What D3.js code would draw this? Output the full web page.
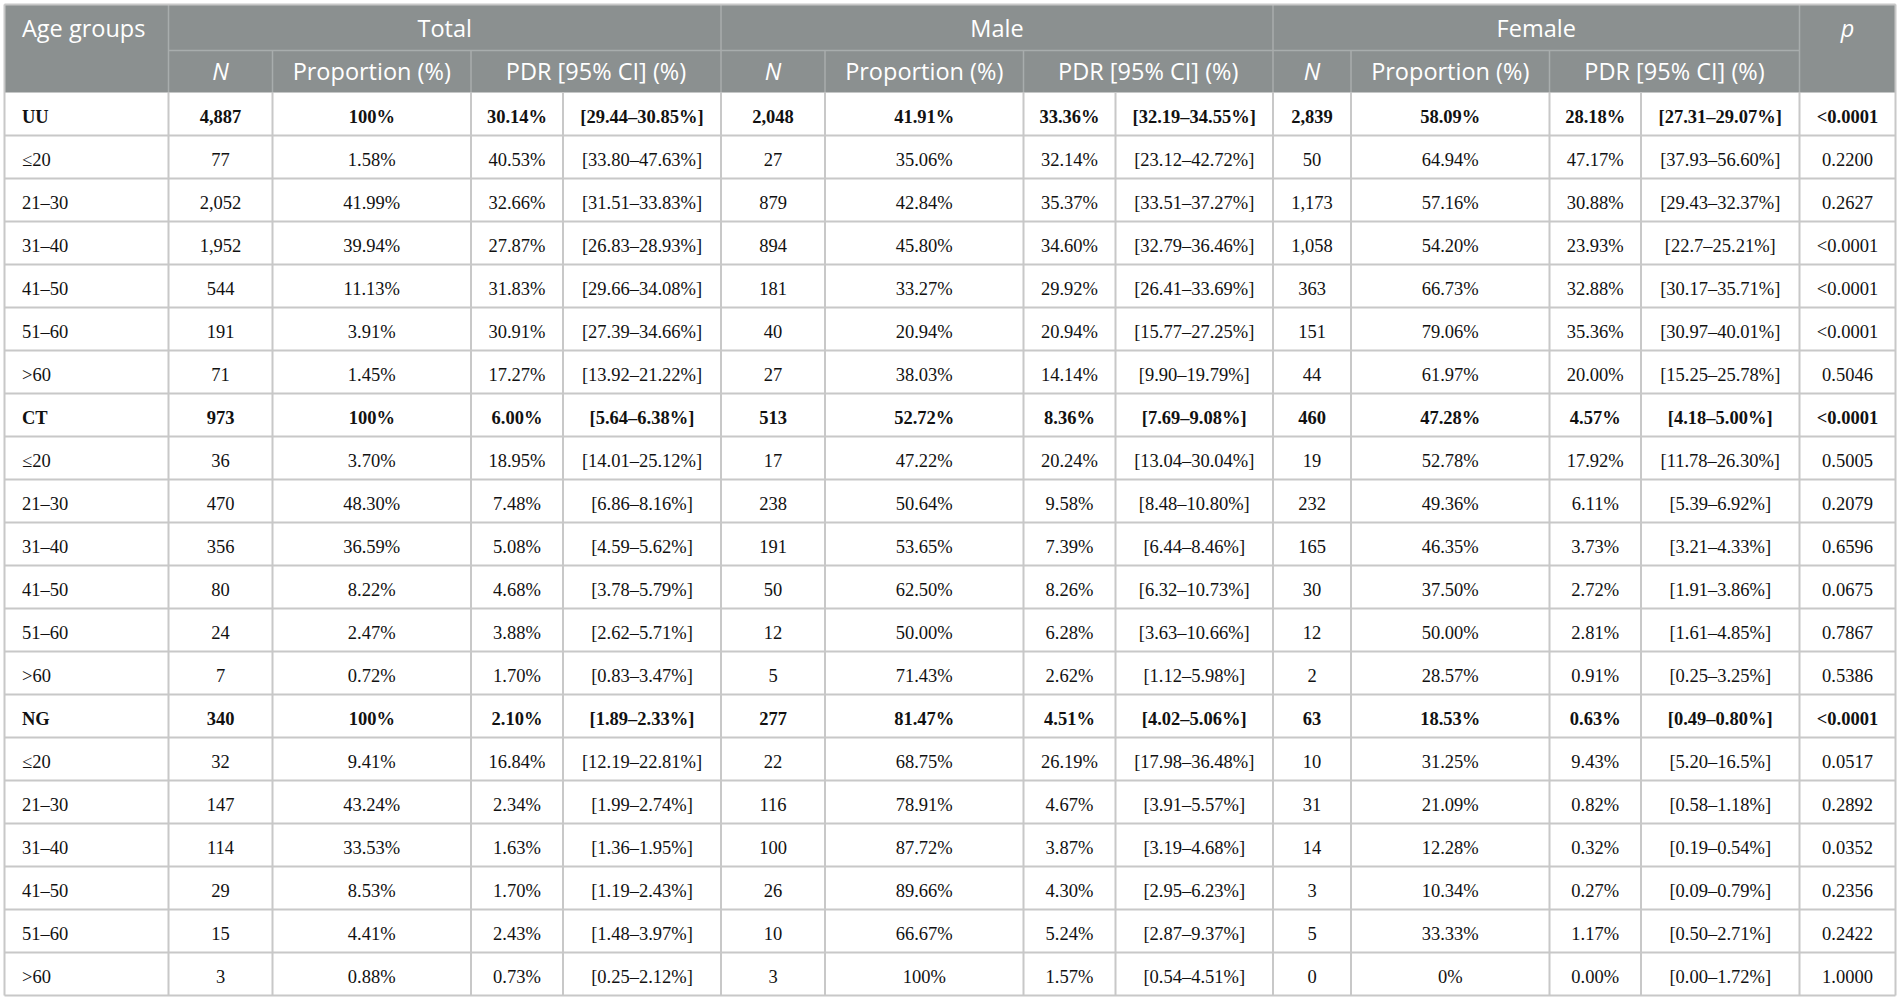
<!DOCTYPE html>
<html>
<head>
<meta charset="utf-8">
<script src="https://cdn.jsdelivr.net/npm/d3@7"></script>
<style>
  body { margin: 0; background: #fff; }
  svg { display: block; }
</style>
</head>
<body>
<div id="chart"></div>
<script>
// table values, one array per column
var ageGroups = ["UU", "≤20", "21–30", "31–40", "41–50", "51–60", ">60",
                 "CT", "≤20", "21–30", "31–40", "41–50", "51–60", ">60",
                 "NG", "≤20", "21–30", "31–40", "41–50", "51–60", ">60"];
var boldRows = ["UU", "CT", "NG"];

var totalN    = ["4,887", "77", "2,052", "1,952", "544", "191", "71",
                 "973", "36", "470", "356", "80", "24", "7",
                 "340", "32", "147", "114", "29", "15", "3"];
var totalProp = ["100%", "1.58%", "41.99%", "39.94%", "11.13%", "3.91%", "1.45%",
                 "100%", "3.70%", "48.30%", "36.59%", "8.22%", "2.47%", "0.72%",
                 "100%", "9.41%", "43.24%", "33.53%", "8.53%", "4.41%", "0.88%"];
var totalPDR  = ["30.14%", "40.53%", "32.66%", "27.87%", "31.83%", "30.91%", "17.27%",
                 "6.00%", "18.95%", "7.48%", "5.08%", "4.68%", "3.88%", "1.70%",
                 "2.10%", "16.84%", "2.34%", "1.63%", "1.70%", "2.43%", "0.73%"];
var totalCI   = ["[29.44–30.85%]", "[33.80–47.63%]", "[31.51–33.83%]", "[26.83–28.93%]", "[29.66–34.08%]", "[27.39–34.66%]", "[13.92–21.22%]",
                 "[5.64–6.38%]", "[14.01–25.12%]", "[6.86–8.16%]", "[4.59–5.62%]", "[3.78–5.79%]", "[2.62–5.71%]", "[0.83–3.47%]",
                 "[1.89–2.33%]", "[12.19–22.81%]", "[1.99–2.74%]", "[1.36–1.95%]", "[1.19–2.43%]", "[1.48–3.97%]", "[0.25–2.12%]"];

var maleN     = ["2,048", "27", "879", "894", "181", "40", "27",
                 "513", "17", "238", "191", "50", "12", "5",
                 "277", "22", "116", "100", "26", "10", "3"];
var maleProp  = ["41.91%", "35.06%", "42.84%", "45.80%", "33.27%", "20.94%", "38.03%",
                 "52.72%", "47.22%", "50.64%", "53.65%", "62.50%", "50.00%", "71.43%",
                 "81.47%", "68.75%", "78.91%", "87.72%", "89.66%", "66.67%", "100%"];
var malePDR   = ["33.36%", "32.14%", "35.37%", "34.60%", "29.92%", "20.94%", "14.14%",
                 "8.36%", "20.24%", "9.58%", "7.39%", "8.26%", "6.28%", "2.62%",
                 "4.51%", "26.19%", "4.67%", "3.87%", "4.30%", "5.24%", "1.57%"];
var maleCI    = ["[32.19–34.55%]", "[23.12–42.72%]", "[33.51–37.27%]", "[32.79–36.46%]", "[26.41–33.69%]", "[15.77–27.25%]", "[9.90–19.79%]",
                 "[7.69–9.08%]", "[13.04–30.04%]", "[8.48–10.80%]", "[6.44–8.46%]", "[6.32–10.73%]", "[3.63–10.66%]", "[1.12–5.98%]",
                 "[4.02–5.06%]", "[17.98–36.48%]", "[3.91–5.57%]", "[3.19–4.68%]", "[2.95–6.23%]", "[2.87–9.37%]", "[0.54–4.51%]"];

var femaleN    = ["2,839", "50", "1,173", "1,058", "363", "151", "44",
                  "460", "19", "232", "165", "30", "12", "2",
                  "63", "10", "31", "14", "3", "5", "0"];
var femaleProp = ["58.09%", "64.94%", "57.16%", "54.20%", "66.73%", "79.06%", "61.97%",
                  "47.28%", "52.78%", "49.36%", "46.35%", "37.50%", "50.00%", "28.57%",
                  "18.53%", "31.25%", "21.09%", "12.28%", "10.34%", "33.33%", "0%"];
var femalePDR  = ["28.18%", "47.17%", "30.88%", "23.93%", "32.88%", "35.36%", "20.00%",
                  "4.57%", "17.92%", "6.11%", "3.73%", "2.72%", "2.81%", "0.91%",
                  "0.63%", "9.43%", "0.82%", "0.32%", "0.27%", "1.17%", "0.00%"];
var femaleCI   = ["[27.31–29.07%]", "[37.93–56.60%]", "[29.43–32.37%]", "[22.7–25.21%]", "[30.17–35.71%]", "[30.97–40.01%]", "[15.25–25.78%]",
                  "[4.18–5.00%]", "[11.78–26.30%]", "[5.39–6.92%]", "[3.21–4.33%]", "[1.91–3.86%]", "[1.61–4.85%]", "[0.25–3.25%]",
                  "[0.49–0.80%]", "[5.20–16.5%]", "[0.58–1.18%]", "[0.19–0.54%]", "[0.09–0.79%]", "[0.50–2.71%]", "[0.00–1.72%]"];

var pValues = ["<0.0001", "0.2200", "0.2627", "<0.0001", "<0.0001", "<0.0001", "0.5046",
               "<0.0001", "0.5005", "0.2079", "0.6596", "0.0675", "0.7867", "0.5386",
               "<0.0001", "0.0517", "0.2892", "0.0352", "0.2356", "0.2422", "1.0000"];

var groupLabels = ["Total", "Male", "Female"];
var subLabels = ["N", "Proportion (%)", "PDR [95% CI] (%)"];

// column order for the body
var columns = [ageGroups, totalN, totalProp, totalPDR, totalCI,
               maleN, maleProp, malePDR, maleCI,
               femaleN, femaleProp, femalePDR, femaleCI, pValues];

// layout
var W = 1900, H = 1001;
var colEdges = [4.5, 168.5, 272.5, 471, 563, 721, 825, 1023.5, 1115.5, 1273, 1351, 1549.5, 1641, 1799.5, 1895.5];
var headTop = 4.5, headMid = 50.5, headBottom = 92.5, tableBottom = 995.5;
var headBg = "rgb(139,144,144)";
var headLine = "rgb(168,173,173)";
var gridLine = "rgb(200,200,200)";
var serif = "'Liberation Serif', 'Times New Roman', serif";
var sans = "'Open Sans', 'Noto Sans', sans-serif";

var svg = d3.select("#chart").append("svg")
    .attr("width", W)
    .attr("height", H);

var y = d3.scaleBand()
    .domain(d3.range(ageGroups.length))
    .range([headBottom, tableBottom]);

function colMid(i){ return (colEdges[i] + colEdges[i + 1]) / 2; }

// header background
svg.append("rect")
    .attr("x", colEdges[0]).attr("y", headTop)
    .attr("width", colEdges[14] - colEdges[0])
    .attr("height", headBottom - headTop)
    .attr("fill", headBg);

// header lines
var hl = svg.append("g").attr("stroke", headLine).attr("stroke-width", 1.5);
hl.append("line").attr("x1", colEdges[1]).attr("x2", colEdges[13])
    .attr("y1", headMid).attr("y2", headMid);
[1, 5, 9, 13].forEach(function(i){
    hl.append("line").attr("x1", colEdges[i]).attr("x2", colEdges[i])
        .attr("y1", headTop).attr("y2", headBottom);
});
[2, 3, 6, 7, 10, 11].forEach(function(i){
    hl.append("line").attr("x1", colEdges[i]).attr("x2", colEdges[i])
        .attr("y1", headMid).attr("y2", headBottom);
});

// header text
var ht = svg.append("g")
    .attr("fill", "#fff")
    .attr("font-family", sans)
    .attr("font-size", "23.5px");

ht.append("text").attr("x", 22).attr("y", 37).text("Age groups");
ht.append("text").attr("x", colMid(13)).attr("y", 37)
    .attr("text-anchor", "middle").attr("font-style", "italic").text("p");

ht.selectAll("text.grp")
    .data(groupLabels)
    .enter()
    .append("text")
    .attr("class", "grp")
    .attr("text-anchor", "middle")
    .attr("x", function(d, i){ return (colEdges[1 + i * 4] + colEdges[5 + i * 4]) / 2; })
    .attr("y", 37)
    .text(function(d){ return d; });

var subData = [];
groupLabels.forEach(function(g, gi){
    subLabels.forEach(function(s, si){
        var a = 1 + gi * 4 + si;
        var b = si == 2 ? a + 2 : a + 1; // PDR spans value + CI
        subData.push({label: s, x: (colEdges[a] + colEdges[b]) / 2, italic: si == 0});
    });
});
ht.selectAll("text.sub")
    .data(subData)
    .enter()
    .append("text")
    .attr("class", "sub")
    .attr("text-anchor", "middle")
    .attr("x", function(d){ return d.x; })
    .attr("y", 79.5)
    .attr("font-style", function(d){ return d.italic ? "italic" : null; })
    .text(function(d){ return d.label; });

// body grid
var gl = svg.append("g").attr("stroke", gridLine).attr("stroke-width", 2).attr("fill", "none");
gl.selectAll("line.h")
    .data(d3.range(1, ageGroups.length + 1))
    .enter()
    .append("line")
    .attr("x1", colEdges[0]).attr("x2", colEdges[14])
    .attr("y1", function(i){ return y(i - 1) + y.bandwidth(); })
    .attr("y2", function(i){ return y(i - 1) + y.bandwidth(); });
gl.selectAll("line.v")
    .data(colEdges)
    .enter()
    .append("line")
    .attr("x1", function(d){ return d; }).attr("x2", function(d){ return d; })
    .attr("y1", function(d, i){ return (i == 0 || i == 14) ? headTop : headBottom; })
    .attr("y2", tableBottom);
gl.append("line").attr("x1", colEdges[0]).attr("x2", colEdges[14])
    .attr("y1", headTop).attr("y2", headTop);

// body cells
var rows = svg.append("g")
    .attr("font-family", serif)
    .attr("font-size", "18.5px")
    .attr("fill", "#111")
    .selectAll("g")
    .data(ageGroups)
    .enter()
    .append("g")
    .attr("transform", function(d, i){ return "translate(0," + (y(i) + y.bandwidth() / 2 + 8.5) + ")"; })
    .attr("font-weight", function(d){ return boldRows.indexOf(d) >= 0 ? "bold" : null; });

rows.each(function(d, r){
    var g = d3.select(this);
    columns.forEach(function(col, c){
        g.append("text")
            .attr("x", c == 0 ? 22 : colMid(c))
            .attr("text-anchor", c == 0 ? "start" : "middle")
            .text(col[r]);
    });
});
</script>
</body>
</html>
